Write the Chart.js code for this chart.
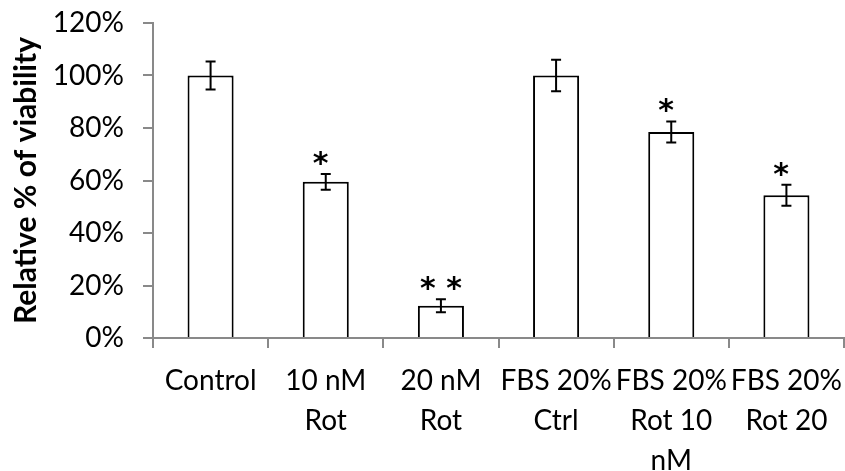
<!DOCTYPE html>
<html>
<head>
<meta charset="utf-8">
<script src="https://cdn.jsdelivr.net/npm/chart.js@4"></script>
<style>
  html, body { margin: 0; padding: 0; background: #ffffff; }
  #wrap { width: 845px; height: 471px; }
</style>
</head>
<body>
<div id="wrap"><canvas id="chart" width="845" height="471"></canvas></div>
<script>
// Treatment groups (multi-line axis labels)
const categories = [
  ['Control'],
  ['10 nM', 'Rot'],
  ['20 nM', 'Rot'],
  ['FBS 20%', 'Ctrl'],
  ['FBS 20%', 'Rot 10', 'nM'],
  ['FBS 20%', 'Rot 20']
];
// Mean relative viability (%)
const viability = [100, 59.5, 12.3, 100, 78.5, 54.4];
// Error (± %)
const errors = [5.3, 3.0, 2.5, 6.0, 4.0, 4.0];
// Significance markers
const significance = ['', '* ', '* *', '', '* ', '* '];
// Value axis
const yMin = 0;
const yMax = 120;
const yStep = 20;

const FONT = 'Lato, "Open Sans", sans-serif';
const MARK_FONT = '"DejaVu Sans", sans-serif';
const AXIS_GREY = '#898989';

// Error bars with caps, drawn from the bar values and errors
const errorBarPlugin = {
  id: 'errorBars',
  afterDatasetsDraw(chart) {
    const ctx = chart.ctx;
    const meta = chart.getDatasetMeta(0);
    const y = chart.scales.y;
    ctx.save();
    ctx.strokeStyle = '#000000';
    ctx.lineWidth = 2;
    meta.data.forEach((bar, i) => {
      const v = viability[i], e = errors[i];
      const top = y.getPixelForValue(v + e);
      const bot = y.getPixelForValue(v - e);
      const cap = 5;
      ctx.beginPath();
      ctx.moveTo(bar.x, top); ctx.lineTo(bar.x, bot);
      ctx.moveTo(bar.x - cap, top); ctx.lineTo(bar.x + cap, top);
      ctx.moveTo(bar.x - cap, bot); ctx.lineTo(bar.x + cap, bot);
      ctx.stroke();
    });
    ctx.restore();
  }
};

// Asterisks above the error bars
const significancePlugin = {
  id: 'significance',
  afterDatasetsDraw(chart, args, opts) {
    const ctx = chart.ctx;
    const meta = chart.getDatasetMeta(0);
    const y = chart.scales.y;
    ctx.save();
    ctx.fillStyle = '#000000';
    ctx.font = 'bold ' + opts.size + 'px ' + MARK_FONT;
    ctx.textAlign = 'center';
    ctx.textBaseline = 'alphabetic';
    meta.data.forEach((bar, i) => {
      const s = significance[i];
      if (!s.trim()) return;
      const m = ctx.measureText('*');
      const errTop = y.getPixelForValue(viability[i] + errors[i]);
      const baseline = errTop - opts.gap - m.actualBoundingBoxDescent;
      ctx.fillText(s, bar.x, baseline);
    });
    ctx.restore();
  }
};

new Chart(document.getElementById('chart'), {
  type: 'bar',
  data: {
    labels: categories,
    datasets: [{
      data: viability,
      backgroundColor: '#ffffff',
      borderColor: '#000000',
      borderWidth: 2,
      categoryPercentage: 1.0,
      barPercentage: 0.4
    }]
  },
  options: {
    responsive: false,
    animation: false,
    events: [],
    layout: { padding: { left: 0, right: 1, top: 23, bottom: 0 } },
    plugins: {
      legend: { display: false },
      tooltip: { enabled: false },
      significance: { size: 30, gap: 8 }
    },
    scales: {
      x: {
        afterFit(scale) {
          scale.height = 133;
          scale.paddingLeft = 0;
          scale.paddingRight = 0;
        },
        grid: {
          display: true,
          drawOnChartArea: false,
          drawTicks: true,
          tickLength: 10,
          color: AXIS_GREY,
          lineWidth: 2
        },
        border: { display: true, color: AXIS_GREY, width: 2 },
        ticks: {
          color: '#000000',
          font: { family: FONT, size: 28, lineHeight: '40px' },
          padding: 13,
          maxRotation: 0,
          autoSkip: false
        }
      },
      y: {
        min: yMin,
        max: yMax,
        afterFit(scale) {
          scale.width = 153;
          scale.paddingTop = 0;
          scale.paddingBottom = 0;
        },
        grid: {
          display: true,
          drawOnChartArea: false,
          drawTicks: true,
          tickLength: 10,
          color: AXIS_GREY,
          lineWidth: 2
        },
        border: { display: true, color: AXIS_GREY, width: 2 },
        ticks: {
          stepSize: yStep,
          color: '#000000',
          font: { family: FONT, size: 28 },
          padding: 19,
          callback: (v) => v + '%'
        },
        title: {
          display: true,
          text: 'Relative % of viability',
          color: '#000000',
          font: { family: FONT, size: 30, weight: 'bold' },
          padding: { top: 8, bottom: 0 }
        }
      }
    }
  },
  plugins: [errorBarPlugin, significancePlugin]
});
</script>
</body>
</html>
